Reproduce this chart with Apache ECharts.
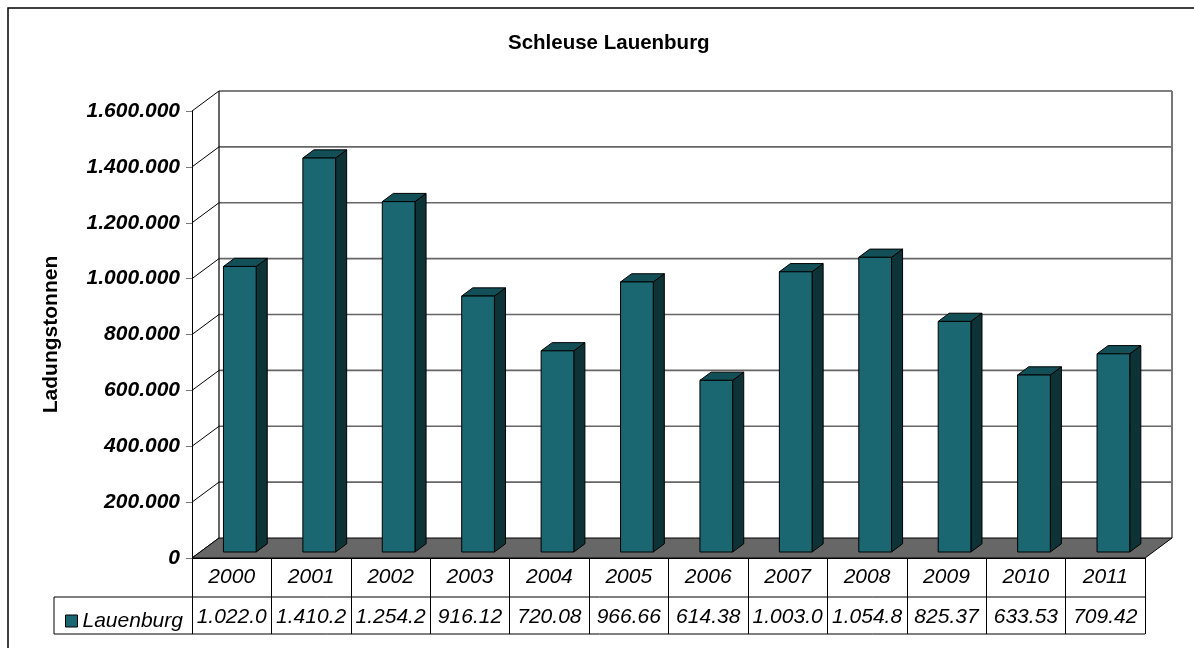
<!DOCTYPE html>
<html><head><meta charset="utf-8">
<script src="https://cdn.jsdelivr.net/npm/echarts@6/dist/echarts.min.js"></script>
<style>html,body{margin:0;padding:0;background:#fff}#c{width:1194px;height:648px}</style>
</head><body><div id="c"></div>
<script>
const chartTitle = 'Schleuse Lauenburg';
const yAxisName = 'Ladungstonnen';
const seriesName = 'Lauenburg';
const years = ['2000','2001','2002','2003','2004','2005','2006','2007','2008','2009','2010','2011'];
const values = [1022040, 1410210, 1254230, 916120, 720080, 966660, 614380, 1003040, 1054850, 825370, 633530, 709420];
const tableText = ['1.022.0','1.410.2','1.254.2','916.12','720.08','966.66','614.38','1.003.0','1.054.8','825.37','633.53','709.42'];
const yTicks = [0, 200000, 400000, 600000, 800000, 1000000, 1200000, 1400000, 1600000];

const DEPTH = [27, -20];
const FRONT = '#1a6671', TOPC = '#124f57', SIDE = '#0e3337';
function fmt(v) { return String(v).replace(/\B(?=(\d{3})+(?!\d))/g, '.'); }

function renderDecor(params, api) {
  const cs = params.coordSys;
  const dx = DEPTH[0], dy = DEPTH[1];
  const x0 = cs.x, x1 = cs.x + cs.width, yb = cs.y + cs.height;
  const yTop = api.coord([0, yTicks[yTicks.length - 1]])[1];
  const ch = [];
  ch.push({type: 'rect', shape: {x: x0 + dx, y: yTop + dy, width: x1 - x0, height: yb - yTop}, style: {fill: '#fff'}});
  yTicks.forEach((t, k) => {
    const y = api.coord([0, t])[1];
    if (k > 0) {
      const last = k === yTicks.length - 1;
      ch.push({type: 'line', shape: {x1: x0 + dx, y1: y + dy, x2: x1 + dx, y2: y + dy},
        style: {stroke: last ? '#000' : '#666', lineWidth: last ? 1.2 : 1.6}});
    }
    ch.push({type: 'line', shape: {x1: x0, y1: y, x2: x0 + dx, y2: y + dy}, style: {stroke: '#000', lineWidth: 1}});
  });
  ch.push({type: 'line', shape: {x1: x0 + dx, y1: yTop + dy, x2: x0 + dx, y2: yb + dy}, style: {stroke: '#000', lineWidth: 1.2}});
  ch.push({type: 'line', shape: {x1: x1 + dx, y1: yTop + dy, x2: x1 + dx, y2: yb + dy}, style: {stroke: '#777', lineWidth: 2}});
  ch.push({type: 'polygon', shape: {points: [[x0, yb], [x1, yb], [x1 + dx, yb + dy], [x0 + dx, yb + dy]]},
    style: {fill: '#676767', stroke: '#000', lineWidth: 1}});
  return {type: 'group', children: ch};
}

function renderBar(params, api) {
  const i = api.value(0), v = api.value(1);
  const base = api.coord([i, 0]), top = api.coord([i, v]);
  const bw = api.size([1, 0])[0];
  const w = bw * 0.412;
  const f1 = 0.3, f2 = 0.71;
  const ox = DEPTH[0] * f1, oy = DEPTH[1] * f1;
  const ddx = DEPTH[0] * (f2 - f1), ddy = DEPTH[1] * (f2 - f1);
  const xl = base[0] - w / 2 + ox, xr = xl + w, yt = top[1] + oy, yb = base[1] + oy;
  const st = {stroke: '#000', lineWidth: 1, lineJoin: 'round'};
  return {type: 'group', children: [
    {type: 'polygon', shape: {points: [[xr, yt], [xr + ddx, yt + ddy], [xr + ddx, yb + ddy], [xr, yb]]}, style: Object.assign({fill: SIDE}, st)},
    {type: 'polygon', shape: {points: [[xl, yt], [xr, yt], [xr + ddx, yt + ddy], [xl + ddx, yt + ddy]]}, style: Object.assign({fill: TOPC}, st)},
    {type: 'rect', shape: {x: xl, y: yt, width: w, height: yb - yt}, style: Object.assign({fill: FRONT}, st)}
  ]};
}

const chart = echarts.init(document.getElementById('c'), null, {renderer: 'canvas'});
const tf = 'Liberation Sans, Arial, sans-serif';
chart.setOption({
  animation: false,
  backgroundColor: '#fff',
  title: {text: chartTitle, left: 503, top: 28, textStyle: {fontFamily: tf, fontSize: 20.5, fontWeight: 'bold', color: '#000'}},
  legend: {
    left: 60, top: 604, itemWidth: 12, itemHeight: 12, icon: 'rect',
    data: [{name: seriesName, itemStyle: {color: FRONT, borderColor: '#000', borderWidth: 1}}],
    textStyle: {fontFamily: tf, fontSize: 21, fontStyle: 'italic', color: '#000', lineHeight: 24}
  },
  grid: {left: 192, top: 111, width: 953, height: 447},
  xAxis: [
    {type: 'category', data: years, boundaryGap: true,
      axisLine: {show: true, lineStyle: {color: '#000', width: 1}},
      axisTick: {show: true, length: 76, interval: 0, lineStyle: {color: '#000', width: 1}},
      axisLabel: {interval: 0, margin: 9, fontFamily: tf, fontSize: 21, fontStyle: 'italic', color: '#000'}},
    {type: 'category', data: tableText, position: 'bottom', offset: 40, boundaryGap: true,
      axisLine: {show: false}, axisTick: {show: false},
      axisLabel: {interval: 0, margin: 9, fontFamily: tf, fontSize: 21, fontStyle: 'italic', color: '#000'}}
  ],
  yAxis: {
    type: 'value', min: yTicks[0], max: yTicks[yTicks.length - 1], interval: yTicks[1] - yTicks[0],
    name: yAxisName, nameLocation: 'middle', nameRotate: 90, nameGap: 130,
    nameTextStyle: {fontFamily: tf, fontSize: 21, fontWeight: 'bold', color: '#000'},
    axisLine: {show: true, lineStyle: {color: '#000', width: 1}},
    axisTick: {show: true, length: 6, lineStyle: {color: '#777'}},
    axisLabel: {margin: 12, formatter: fmt, fontFamily: tf, fontSize: 21, fontWeight: 'bold', fontStyle: 'italic', color: '#000'},
    splitLine: {show: false}
  },
  graphic: [
    {type: 'rect', shape: {x: 8, y: 8, width: 1300, height: 800}, style: {fill: null, stroke: '#000', lineWidth: 1.5}, silent: true},
    {type: 'line', shape: {x1: 54, y1: 597, x2: 1145, y2: 597}, style: {stroke: '#000', lineWidth: 1}},
    {type: 'line', shape: {x1: 54, y1: 634, x2: 1145, y2: 634}, style: {stroke: '#000', lineWidth: 1}},
    {type: 'line', shape: {x1: 54, y1: 597, x2: 54, y2: 634}, style: {stroke: '#000', lineWidth: 1}}
  ],
  series: [
    {type: 'custom', name: 'decor', renderItem: renderDecor, data: [[0, 0]], z: 1, silent: true, clip: false},
    {type: 'custom', name: seriesName, renderItem: renderBar, itemStyle: {color: FRONT},
      encode: {x: 0, y: 1}, data: years.map((y, i) => [i, values[i]]), z: 3, clip: false}
  ]
});
</script></body></html>
